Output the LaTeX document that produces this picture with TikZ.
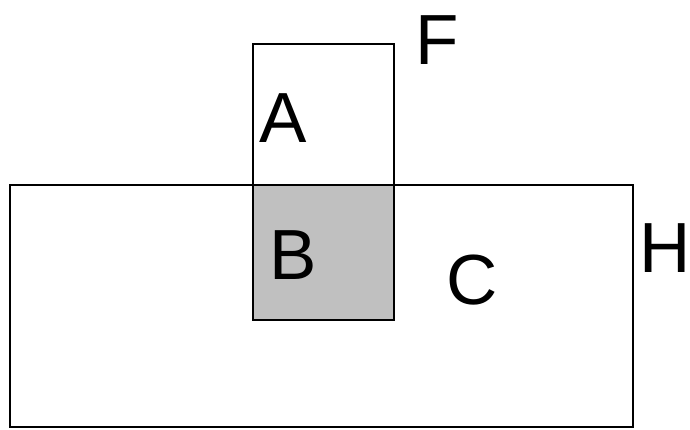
\documentclass[tikz,border=0pt]{standalone}
\usepackage{fontspec}
\setmainfont{Liberation Sans}
\begin{document}
\begin{tikzpicture}[x=1pt,y=-1pt,
  box/.style={draw=black,line width=1.5pt},
  lbl/.style={anchor=base,inner sep=0pt,font=\fontsize{71}{71}\selectfont}]
\useasboundingbox (0,0) rectangle (690,429);
\fill[white] (0,0) rectangle (690,429);
\fill[fill={rgb,255:red,192;green,192;blue,192}] (253,185) rectangle (394,320);
\draw[box] (253,44) rectangle (394,320);
\draw[box] (10,185) rectangle (633,427);
\node[lbl] (F) at (437.5,64) {F};
\node[lbl] (A) at (283,142) {A};
\node[lbl] (B) at (293,279) {B};
\node[lbl] (C) at (472.5,304) {C};
\node[lbl] (H) at (665,272) {H};
\end{tikzpicture}
\end{document}
